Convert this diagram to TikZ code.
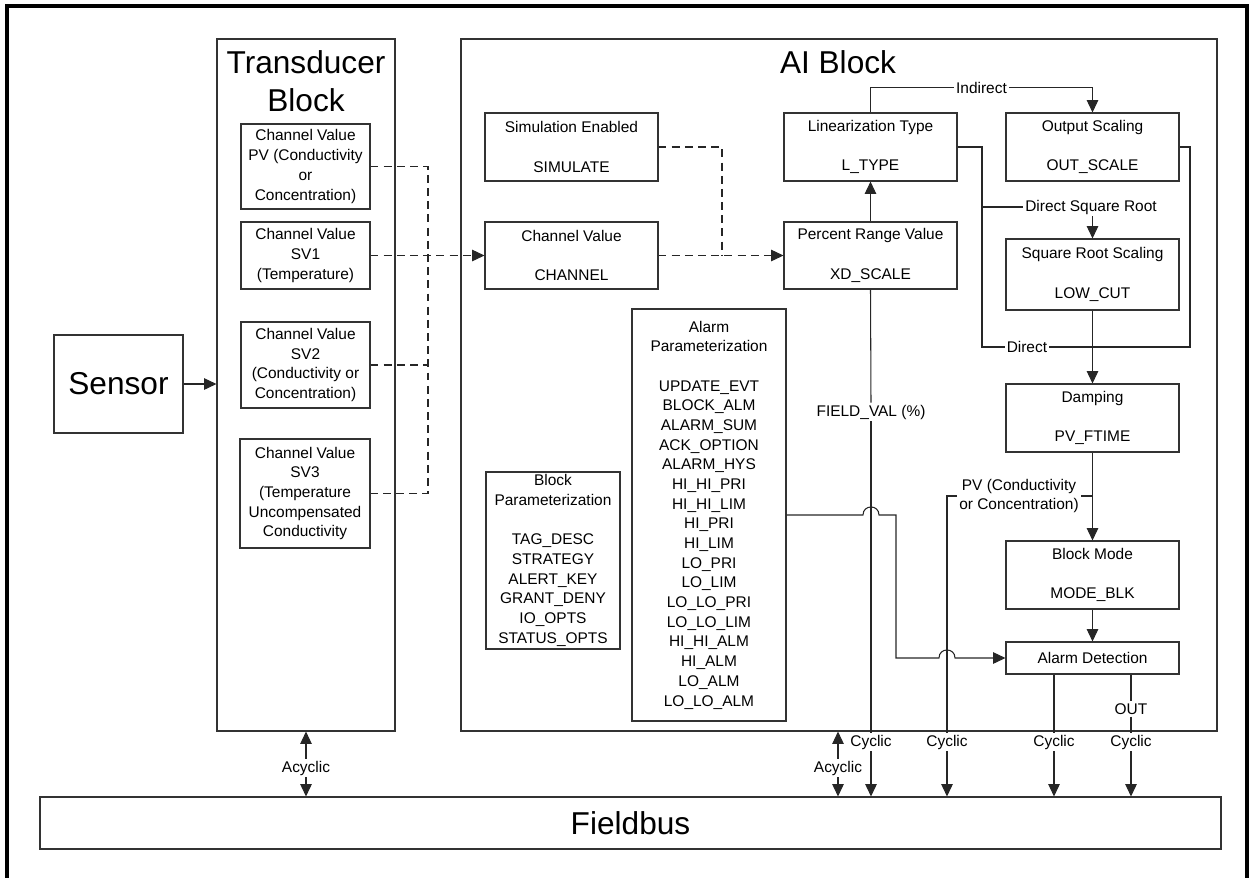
\documentclass[tikz,border=0pt]{standalone}
\usepackage{fontspec}
\setmainfont{Liberation Sans}
\usetikzlibrary{arrows.meta}
\newcommand{\pxu}{0.02cm}
\newcommand{\smallfont}{\fontsize{8.8}{11.2}\selectfont}
\newcommand{\bigfont}{\fontsize{18}{21.5}\selectfont}
\tikzset{
  blk/.style 2 args={draw=black!80, line width=0.6pt, align=center, inner sep=0pt,
    font=\smallfont, minimum width=#1*\pxu, minimum height=#2*\pxu},
  lab/.style={font=\smallfont, fill=white, inner sep=1pt, align=center},
  wire/.style={draw=black!85, line width=0.6pt},
  dsh/.style={wire, dash pattern=on 4.5pt off 3pt},
  >={Triangle[length=7pt,width=6.5pt]}
}
\begin{document}
\begin{tikzpicture}[x=\pxu,y=-\pxu]
\useasboundingbox (0,0) rectangle (1255,877);
\draw[line width=2.8pt] (7,6) rectangle (1247,900);

\node[blk={178}{692}] (tb) at (306,385) {};
\node[font=\bigfont, align=center] (tbtitle) at (306,81) {Transducer\\Block};
\node[blk={756}{692}] (aib) at (839,385) {};
\node[font=\bigfont] (aititle) at (838,62) {AI Block};

\node[blk={129}{98}, font=\bigfont] (sensor) at (118.5,384) {Sensor};
\node[blk={1181}{52}, font=\bigfont] (fieldbus) at (630.5,823) {Fieldbus};

\node[blk={129}{85}] (chpv) at (305.5,166.5) {Channel Value\\PV (Conductivity\\or\\Concentration)};
\node[blk={129}{67}] (chsv1) at (305.5,255.5) {Channel Value\\SV1\\(Temperature)};
\node[blk={129}{86}] (chsv2) at (305.5,365) {Channel Value\\SV2\\(Conductivity or\\Concentration)};
\node[blk={130}{109}] (chsv3) at (305,493.5) {Channel Value\\SV3\\(Temperature\\Uncompensated\\Conductivity};

\node[blk={173}{68}] (sim) at (571.5,147) {Simulation Enabled\\[11.2pt]SIMULATE};
\node[blk={173}{67}] (chan) at (571.5,255.5) {Channel Value\\[11.2pt]CHANNEL};
\node[blk={173}{68}] (lin) at (870.5,147) {Linearization Type\\[11.2pt]L\_TYPE};
\node[blk={173}{67}] (pct) at (870.5,255.5) {Percent Range Value\\[11.2pt]XD\_SCALE};
\node[blk={173}{68}] (outsc) at (1092.5,147) {Output Scaling\\[11.2pt]OUT\_SCALE};
\node[blk={173}{71}] (sqrt) at (1092.5,274.5) {Square Root Scaling\\[11.2pt]LOW\_CUT};
\node[blk={173}{68}] (damp) at (1092.5,418) {Damping\\[11.2pt]PV\_FTIME};
\node[blk={173}{68}] (mode) at (1092.5,575) {Block Mode\\[11.2pt]MODE\_BLK};
\node[blk={173}{32}] (alarmdet) at (1092.5,658) {Alarm Detection};

\node[blk={154}{412}] (alarmpar) at (709,515) {Alarm\\Parameterization\\[11.2pt]UPDATE\_EVT\\BLOCK\_ALM\\ALARM\_SUM\\ACK\_OPTION\\ALARM\_HYS\\HI\_HI\_PRI\\HI\_HI\_LIM\\HI\_PRI\\HI\_LIM\\LO\_PRI\\LO\_LIM\\LO\_LO\_PRI\\LO\_LO\_LIM\\HI\_HI\_ALM\\HI\_ALM\\LO\_ALM\\LO\_LO\_ALM};
\node[blk={134}{177}] (blockpar) at (553,560.5) {Block\\Parameterization\\[11.2pt]TAG\_DESC\\STRATEGY\\ALERT\_KEY\\GRANT\_DENY\\IO\_OPTS\\STATUS\_OPTS};

\node[lab] (dsr) at (1091,207) {Direct Square Root};
\node[lab] (pvlab) at (1019,496) {PV (Conductivity\\or Concentration)};
\node[lab] (fv) at (871,412) {FIELD\_VAL (\%)};
\node[lab] (outl) at (1131,709) {OUT};
\node[lab] (cyc1) at (871,742) {Cyclic};
\node[lab] (cyc2) at (947,742) {Cyclic};
\node[lab] (cyc3) at (1054,742) {Cyclic};
\node[lab] (cyc4) at (1131,742) {Cyclic};
\node[lab] (acy1) at (306,768) {Acyclic};
\node[lab] (acy2) at (838,768) {Acyclic};

\coordinate (dbus) at (428,0);
\coordinate (simj) at (722,255.5);
\coordinate (dirL) at (982,347);
\coordinate (dirR) at (1190,347);

\draw[wire,->] (sensor.east) -- (sensor.east -| tb.west);

\draw[dsh] (chpv.east) -| (chsv3.east -| dbus) -- (chsv3.east);
\draw[dsh] (chsv2.east) -- (chsv2.east -| dbus);
\draw[dsh,->] (chsv1.east) -- (chan.west);
\draw[dsh] (sim.east) -| (simj);
\draw[dsh,->] (chan.east) -- (pct.west);

\draw[wire,->] (pct.north) -- (lin.south);
\draw[wire,->] (lin.north) -- ++(0,-25) -| node[lab,pos=0.25] {Indirect} (outsc.north);
\draw[wire] (lin.east) -| (dirL) -- node[lab,pos=0.216] {Direct} (dirR) |- (outsc.east);
\draw[wire] (dirL |- dsr) -- (dsr.west);
\draw[wire,->] (dsr.south -| sqrt.north) -- (sqrt.north);
\draw[wire,->] (sqrt.south) -- (damp.north);
\draw[wire,->] (damp.south) -- (mode.north);
\draw[wire] (damp.south |- pvlab) -- (pvlab.east);
\draw[wire] (pvlab.west) -| (cyc2.north);
\draw[wire,->] (mode.south) -- (alarmdet.north);

\draw[wire,->] (alarmpar.east) -- (863,515) .. controls (863,504.3) and (879,504.3) .. (879,515)
  -- (896,515) -- (896,658) -- (939,658) .. controls (939,647.3) and (955,647.3) .. (955,658)
  -- (alarmdet.west);

\draw[wire] (pct.south) -- (fv.north);
\draw[wire] (fv.south) -- (cyc1.north);
\draw[wire] (alarmdet.south -| cyc3) -- (cyc3.north);
\draw[wire] (alarmdet.south -| outl) -- (outl.north);
\draw[wire] (outl.south) -- (cyc4.north);

\draw[wire,->] (cyc1.south) -- (cyc1 |- fieldbus.north);
\draw[wire,->] (cyc2.south) -- (cyc2 |- fieldbus.north);
\draw[wire,->] (cyc3.south) -- (cyc3 |- fieldbus.north);
\draw[wire,->] (cyc4.south) -- (cyc4 |- fieldbus.north);

\draw[wire,->] (acy1.north) -- (acy1 |- tb.south);
\draw[wire,->] (acy1.south) -- (acy1 |- fieldbus.north);
\draw[wire,->] (acy2.north) -- (acy2 |- aib.south);
\draw[wire,->] (acy2.south) -- (acy2 |- fieldbus.north);
\end{tikzpicture}
\end{document}
